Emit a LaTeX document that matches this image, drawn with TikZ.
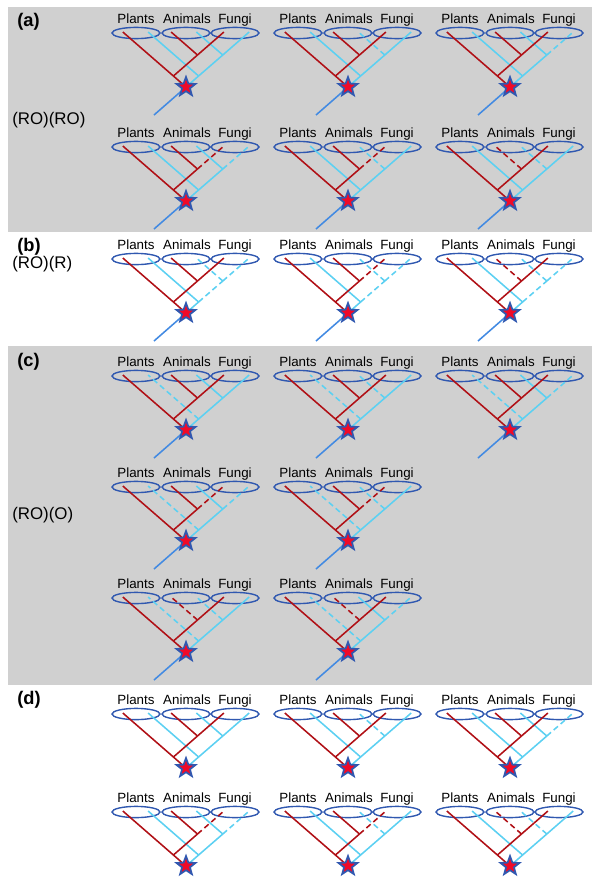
\documentclass[tikz,border=0pt]{standalone}
\usepackage{fontspec}
\setmainfont{Liberation Sans}
\usepackage{tikz}
\usetikzlibrary{shapes.geometric}

\definecolor{panelgray}{RGB}{208,208,208}
\definecolor{genered}{RGB}{176,16,22}
\definecolor{genecyan}{RGB}{92,208,242}
\definecolor{cladeblue}{RGB}{48,88,176}
\definecolor{rootblue}{RGB}{66,138,226}
\definecolor{starred}{RGB}{240,10,40}

% a lost gene is drawn dashed; lose/.list={cA,rF} marks the lost branches
\tikzset{
  lost/.style={dash pattern=on 4pt off 2.5pt},
  lose/.style={#1/.style={lost}},
  rP/.style={}, rAF/.style={}, rA/.style={}, rF/.style={},
  cP/.style={}, cAF/.style={}, cA/.style={}, cF/.style={},
  stem/.style={},
  nostem/.style={stem/.style={draw=none}}}

\begin{document}
\begin{tikzpicture}[
  x=0.025cm, y=-0.025cm,
  every node/.style={inner sep=0pt},
  panel/.style  ={fill=panelgray, draw=none},
  clade/.style  ={ellipse, draw=cladeblue, line width=1pt,
                  minimum width=1.2cm, minimum height=0.28cm},
  taxon/.style  ={anchor=base, font=\fontsize{9.5}{11}\selectfont},
  gene/.style   ={line width=1.1pt},
  rline/.style  ={gene, draw=genered},
  cline/.style  ={gene, draw=genecyan},
  rootline/.style={gene, draw=rootblue},
  dupstar/.style={star, star points=5, star point ratio=2.4, minimum size=0.5cm,
                  fill=starred, draw=cladeblue, line width=1.2pt},
  tag/.style    ={anchor=west, font=\bfseries\fontsize{13}{15}\selectfont},
  model/.style  ={anchor=west, font=\fontsize{12}{14}\selectfont}]

\useasboundingbox (0,0) rectangle (600,888);

% one gene tree with the duplication star at (#1,#2); #3 are the lost branches
\newcommand{\genetree}[3]{%
  \begin{scope}[shift={(#1,#2)}, #3]
    \node[clade] (P) at (-50,-54) {};
    \node[clade] (A) at (0,-54) {};
    \node[clade] (F) at (49,-54) {};
    \node[taxon] (lP) at (-50,-64) {Plants};
    \node[taxon] (lA) at (1,-64) {Animals};
    \node[taxon] (lF) at (49,-64) {Fungi};
    \coordinate (dup) at (0,0);
    \coordinate (root) at (-32,28);
    % cyan copy: fungi line, plants and animals branch off to the left
    \coordinate (c1) at (12.6,-11);
    \coordinate (c2) at (36.8,-32);
    \coordinate (cp) at (-37.9,-55);
    \coordinate (ca) at (10.4,-55);
    \coordinate (cf) at (63.2,-55);
    \draw[cline] (dup) -- (c1);
    \draw[cline, cP] (c1) -- (cp);
    \draw[cline, cAF] (c1) -- (c2);
    \draw[cline, cA] (c2) -- (ca);
    \draw[cline, cF] (c2) -- (cf);
    % red copy: plants line, animals+fungi branch off to the right
    \coordinate (r1) at (-12.6,-11);
    \coordinate (r2) at (11.5,-32);
    \coordinate (rp) at (-63.2,-55);
    \coordinate (ra) at (-14.9,-55);
    \coordinate (rf) at (37.9,-55);
    \draw[rline] (dup) -- (r1);
    \draw[rline, rP] (r1) -- (rp);
    \draw[rline, rAF] (r1) -- (r2);
    \draw[rline, rA] (r2) -- (ra);
    \draw[rline, rF] (r2) -- (rf);
    \draw[rootline, stem] (dup) -- (root);
    \node[dupstar] (star) at (dup) {};
  \end{scope}}

% ----------------------------- panels ---------------------------------
\path[panel] (8,7) rectangle (592,232);
\path[panel] (8,346) rectangle (592,685);

\node[tag] (ta) at (17,22) {(a)};
\node[tag] (tb) at (17,247) {(b)};
\node[tag] (tc) at (17,362) {(c)};
\node[tag] (td) at (17,700) {(d)};

\node[model] (ma) at (12,120) {(RO)(RO)};
\node[model] (mb) at (12,264) {(RO)(R)};
\node[model] (mc) at (12,515) {(RO)(O)};

% ------------------------------ (a) -----------------------------------
\genetree{186}{87}{}
\genetree{348}{87}{lose/.list={cA}}
\genetree{510}{87}{lose/.list={cF}}
\genetree{186}{201}{lose/.list={rF,cF}}
\genetree{348}{201}{lose/.list={rF,cA}}
\genetree{510}{201}{lose/.list={rA,cA}}

% ------------------------------ (b) -----------------------------------
\genetree{186}{313}{lose/.list={cAF,cA,cF}}
\genetree{348}{313}{lose/.list={rF,cAF,cA,cF}}
\genetree{510}{313}{lose/.list={rA,cAF,cA,cF}}

% ------------------------------ (c) -----------------------------------
\genetree{186}{430}{lose/.list={cP}}
\genetree{348}{430}{lose/.list={cP,cA}}
\genetree{510}{430}{lose/.list={cP,cF}}
\genetree{186}{541}{lose/.list={cP,rF,cF}}
\genetree{348}{541}{lose/.list={cP,rF,cA}}
\genetree{186}{652}{lose/.list={cP,rA,cA}}
\genetree{348}{652}{lose/.list={cP,rA,cF}}

% ------------------------------ (d) -----------------------------------
\genetree{186}{768}{nostem}
\genetree{348}{768}{nostem, lose/.list={cA}}
\genetree{510}{768}{nostem, lose/.list={cF}}
\genetree{186}{866}{nostem, lose/.list={rF,cF}}
\genetree{348}{866}{nostem, lose/.list={rF,cA}}
\genetree{510}{866}{nostem, lose/.list={rA,cA}}

\end{tikzpicture}
\end{document}
